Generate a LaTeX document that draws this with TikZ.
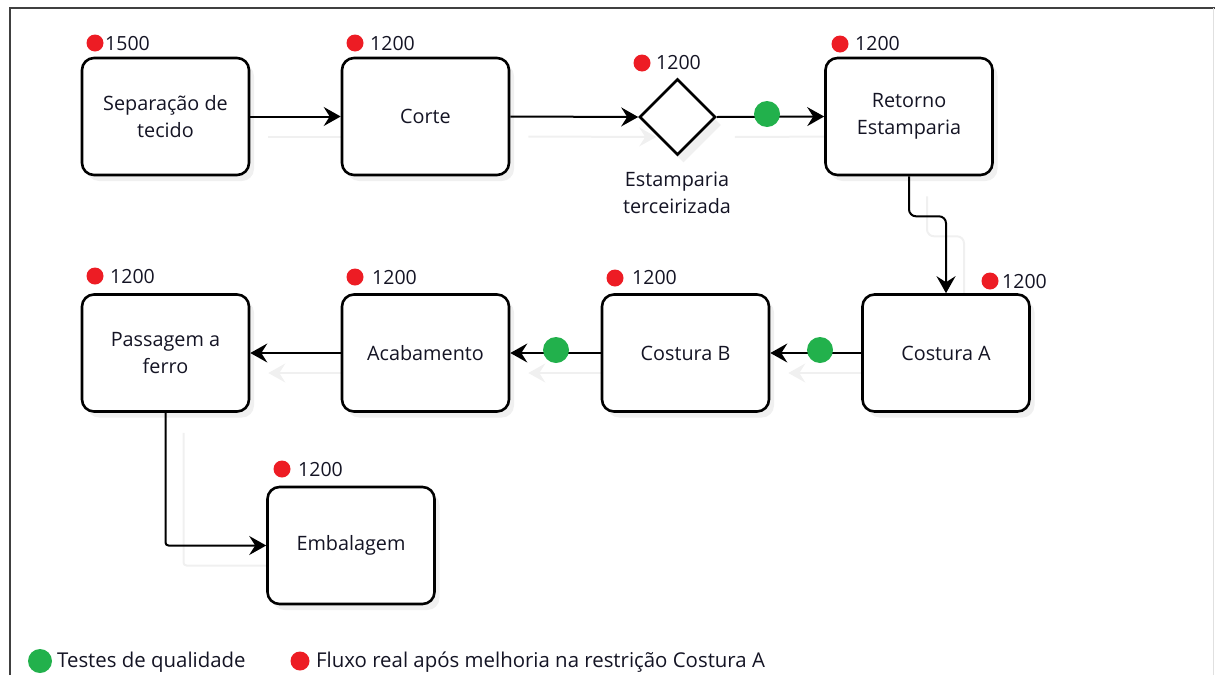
\documentclass[tikz,border=0pt]{standalone}
\usepackage{fontspec}
\setmainfont{Open Sans}
\usetikzlibrary{arrows.meta,shapes.geometric,shadows}
\definecolor{dotred}{HTML}{ED1C24}
\definecolor{dotgreen}{HTML}{22B14C}
\definecolor{txt}{HTML}{141424}
\pgfdeclarelayer{bg}
\pgfsetlayers{bg,main}
\tikzset{
  stepbox/.style={draw=black, line width=2.6pt, rounded corners=12pt, fill=white,
    minimum width=167pt, minimum height=117pt, align=center, inner sep=2pt,
    font=\fontsize{19.8}{27}\selectfont, text=txt,
    drop shadow={opacity=0.12, shadow xshift=5pt, shadow yshift=-6pt}},
  gate/.style={draw=black, line width=2.6pt, diamond, fill=white, minimum width=76pt,
    minimum height=76pt, inner sep=0pt,
    drop shadow={opacity=0.12, shadow xshift=6pt, shadow yshift=-8pt}},
  conn/.style={line width=2pt, -{Stealth[length=17pt,width=19pt,inset=6pt]}},
  ghost/.style={line width=2pt, draw=black!6, -{Stealth[length=17pt,width=19pt,inset=6pt]},
    transform canvas={xshift=18pt,yshift=-20pt}},
  rdot/.style={circle, fill=dotred, minimum size=17pt, inner sep=0pt},
  gdot/.style={circle, fill=dotgreen, minimum size=26pt, inner sep=0pt},
  num/.style={anchor=west, inner sep=0pt, font=\fontsize{19.5}{22}\selectfont, text=txt},
  lbl/.style={align=center, inner sep=0pt, font=\fontsize{19.8}{27}\selectfont, text=txt},
  leg/.style={anchor=west, inner sep=0pt, font=\fontsize{20.4}{22}\selectfont, text=txt},
}
\begin{document}
\begin{tikzpicture}[x=1pt,y=-1pt]
\useasboundingbox (0,0) rectangle (1215,675);
% frame
\coordinate (fa) at (10,675);
\coordinate (fb) at (10,8);
\coordinate (fc) at (1215,8);
\coordinate (fd) at (1213,8);
\coordinate (fe) at (1213,675);
\draw[line width=2pt, draw=black!75] (fa) -- (fb) -- (fc);
\draw[line width=1pt, draw=black!12] (fd) -- (fe);

% boxes
\node[stepbox] (sep) at (165.5,116.5) {Separação de\\tecido};
\node[stepbox] (cor) at (425.5,116.5) {Corte};
\node[gate] (est) at (677.5,117) {};
\node[stepbox] (ret) at (909,116.5) {Retorno\\Estamparia};
\node[stepbox] (cosA) at (946,353) {Costura A};
\node[stepbox] (cosB) at (685.5,353) {Costura B};
\node[stepbox] (aca) at (425.5,353) {Acabamento};
\node[stepbox] (pas) at (165.5,353) {Passagem a\\ferro};
\node[stepbox] (emb) at (351,545.5) {Embalagem};

% ghost (shadow) connectors, behind everything
\begin{pgfonlayer}{bg}
\draw[ghost] (sep.east) -- (cor.west);
\draw[ghost] (cor.east) -- (est.west);
\draw[ghost] (est.east) -- (ret.west);
\draw[ghost, rounded corners=7pt] (ret.south) -- ++(0,40) -| (cosA.north);
\draw[ghost] (cosA.west) -- (cosB.east);
\draw[ghost] (cosB.west) -- (aca.east);
\draw[ghost] (aca.west) -- (pas.east);
\draw[ghost, rounded corners=3pt] (pas.south) |- (emb.west);
\end{pgfonlayer}

% connectors
\draw[conn] (sep.east) -- (cor.west);
\draw[conn] (cor.east) -- (est.west);
\draw[conn] (est.east) -- (ret.west);
\draw[conn, rounded corners=7pt] (ret.south) -- ++(0,40) -| (cosA.north);
\draw[conn] (cosA.west) -- (cosB.east);
\draw[conn] (cosB.west) -- (aca.east);
\draw[conn] (aca.west) -- (pas.east);
\draw[conn, rounded corners=3pt] (pas.south) |- (emb.west);

% diamond label
\node[lbl] (estl) at (677,193) {Estamparia\\terceirizada};

% quality test dots
\node[gdot] (g1) at (767,114) {};
\node[gdot] (g2) at (820,350) {};
\node[gdot] (g3) at (556,350) {};

% flow numbers
\node[rdot] (r1) at (95,43) {};   \node[num] (n1) at (105,44) {1500};
\node[rdot] (r2) at (355,43) {};  \node[num] (n2) at (370,44) {1200};
\node[rdot] (r3) at (642,63) {};  \node[num] (n3) at (656,63) {1200};
\node[rdot] (r4) at (840,44) {};  \node[num] (n4) at (855,44) {1200};
\node[rdot] (r5) at (990,281) {}; \node[num] (n5) at (1002,282) {1200};
\node[rdot] (r6) at (615,278) {}; \node[num] (n6) at (632,278) {1200};
\node[rdot] (r7) at (355,277) {}; \node[num] (n7) at (372,278) {1200};
\node[rdot] (r8) at (95,276) {};  \node[num] (n8) at (110,277) {1200};
\node[rdot] (r9) at (282,469) {}; \node[num] (n9) at (298,470) {1200};

% legend
\node[circle, fill=dotgreen, minimum size=24pt, inner sep=0pt] (lg) at (40,661) {};
\node[leg] (lgt) at (57,662) {Testes de qualidade};
\node[circle, fill=dotred, minimum size=19pt, inner sep=0pt] (lr) at (300,661) {};
\node[leg] (lrt) at (316,662) {Fluxo real após melhoria na restrição Costura A};
\end{tikzpicture}
\end{document}
